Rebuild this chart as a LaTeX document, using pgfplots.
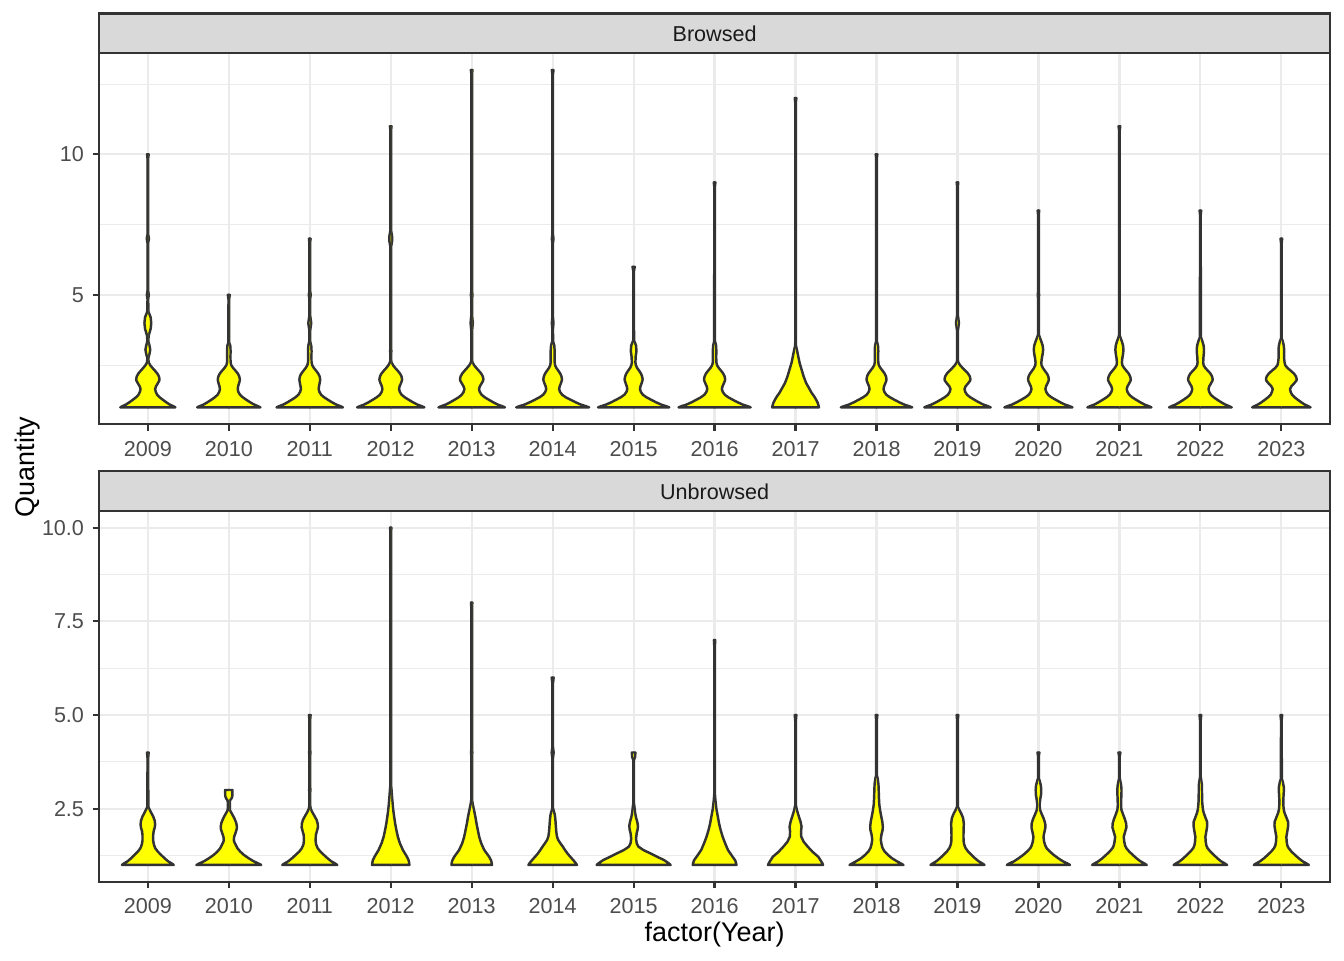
\documentclass[border=0pt]{standalone}
\usepackage{pgfplots}
\usepackage{pgfplotstable}
\pgfplotsset{compat=1.18}
\usepackage{fontspec}
\setmainfont{Liberation Sans}
\definecolor{gA}{HTML}{333333}
\definecolor{gB}{HTML}{4D4D4D}
\definecolor{gC}{HTML}{EBEBEB}
\definecolor{gD}{HTML}{D9D9D9}
\definecolor{gE}{HTML}{1A1A1A}
\definecolor{vy}{HTML}{FFFF00}

% ---------- Browsed ----------
\pgfplotstableread{
y w
1.00 -0.004
1.00 .340
1.04 .315
1.10 .270
1.18 .228
1.27 .185
1.36 .145
1.45 .115
1.55 .098
1.65 .090
1.75 .101
1.85 .122
1.95 .141
2.00 .144
2.10 .137
2.20 .118
2.30 .089
2.40 .058
2.50 .029
2.60 .010
2.75 .006
2.90 .020
3.05 .030
3.20 .020
3.35 .006
3.55 .010
3.80 .035
4.00 .042
4.20 .035
4.40 .008
4.85 .004
5.00 .012
5.15 .004
6.85 .004
7.00 .014
7.15 .004
9.85 .004
10.00 .010
10.00 -0.004
}\tTa
\pgfplotstableread{
y w
1.00 -0.004
1.00 .390
1.04 .362
1.10 .312
1.18 .264
1.27 .216
1.36 .172
1.45 .138
1.55 .118
1.65 .110
1.75 .115
1.85 .126
1.95 .135
2.00 .136
2.10 .129
2.20 .112
2.30 .084
2.40 .054
2.50 .030
2.60 .022
2.80 .020
3.00 .022
3.20 .018
3.30 .005
4.85 .004
5.00 .012
5.00 -0.004
}\tTb
\pgfplotstableread{
y w
1.00 -0.004
1.00 .410
1.04 .380
1.10 .326
1.18 .275
1.27 .224
1.36 .176
1.45 .140
1.55 .119
1.65 .110
1.75 .114
1.85 .121
1.95 .127
2.00 .128
2.10 .122
2.20 .105
2.30 .079
2.40 .051
2.50 .030
2.60 .022
2.80 .020
3.00 .022
3.20 .018
3.35 .005
3.75 .006
4.00 .018
4.25 .006
4.85 .004
5.00 .012
5.15 .004
6.85 .004
7.00 .010
7.00 -0.004
}\tTc
\pgfplotstableread{
y w
1.00 -0.004
1.00 .415
1.04 .384
1.10 .328
1.18 .275
1.27 .222
1.36 .172
1.45 .134
1.55 .112
1.65 .103
1.75 .110
1.85 .125
1.95 .138
2.00 .140
2.10 .133
2.20 .115
2.30 .087
2.40 .056
2.50 .028
2.60 .010
2.70 .004
2.90 .004
3.00 .008
3.10 .004
6.70 .004
6.90 .016
7.10 .016
7.30 .004
10.85 .004
11.00 .010
11.00 -0.004
}\tTd
\pgfplotstableread{
y w
1.00 -0.004
1.00 .410
1.04 .378
1.10 .320
1.18 .266
1.27 .212
1.36 .160
1.45 .122
1.55 .100
1.65 .090
1.75 .101
1.85 .122
1.95 .141
2.00 .144
2.10 .137
2.20 .118
2.30 .089
2.40 .058
2.50 .029
2.60 .010
2.70 .004
3.70 .004
4.00 .014
4.30 .004
4.85 .004
5.00 .010
5.15 .004
12.85 .004
13.00 .010
13.00 -0.004
}\tTe
\pgfplotstableread{
y w
1.00 -0.004
1.00 .450
1.04 .413
1.10 .346
1.18 .284
1.27 .221
1.36 .161
1.45 .117
1.55 .091
1.65 .080
1.75 .087
1.85 .101
1.95 .113
2.00 .115
2.10 .109
2.20 .094
2.30 .071
2.40 .046
2.50 .030
2.60 .025
2.80 .024
3.00 .025
3.20 .020
3.35 .005
3.80 .004
4.00 .010
4.20 .004
6.85 .004
7.00 .010
7.15 .004
12.85 .004
13.00 .010
13.00 -0.004
}\tTf
\pgfplotstableread{
y w
1.00 -0.004
1.00 .440
1.04 .404
1.10 .339
1.18 .277
1.27 .216
1.36 .158
1.45 .114
1.55 .089
1.65 .078
1.75 .085
1.85 .098
1.95 .109
2.00 .111
2.10 .105
2.20 .091
2.30 .069
2.40 .044
2.50 .028
2.60 .022
2.80 .025
3.00 .035
3.20 .030
3.38 .005
5.85 .004
6.00 .014
6.00 -0.004
}\tTg
\pgfplotstableread{
y w
1.00 -0.004
1.00 .445
1.04 .410
1.10 .346
1.18 .285
1.27 .225
1.36 .168
1.45 .126
1.55 .101
1.65 .090
1.75 .098
1.85 .114
1.95 .128
2.00 .130
2.10 .124
2.20 .107
2.30 .081
2.40 .052
2.50 .030
2.60 .022
2.80 .020
3.00 .022
3.20 .018
3.35 .005
8.85 .004
9.00 .010
9.00 -0.004
}\tTh
\pgfplotstableread{
y w
1.00 -0.004
1.00 .290
1.05 .285
1.15 .275
1.27 .255
1.39 .230
1.51 .200
1.69 .165
1.87 .130
2.10 .100
2.35 .074
2.58 .050
2.82 .033
3.06 .016
3.18 .006
3.30 .004
11.85 .004
12.00 .010
12.00 -0.004
}\tTi
\pgfplotstableread{
y w
1.00 -0.004
1.00 .440
1.04 .405
1.10 .341
1.18 .281
1.27 .221
1.36 .164
1.45 .121
1.55 .097
1.65 .086
1.75 .093
1.85 .108
1.95 .121
2.00 .123
2.10 .117
2.20 .101
2.30 .076
2.40 .049
2.50 .028
2.60 .022
2.80 .020
3.00 .022
3.20 .018
3.35 .005
9.85 .004
10.00 .010
10.00 -0.004
}\tTj
\pgfplotstableread{
y w
1.00 -0.004
1.00 .410
1.04 .378
1.10 .319
1.18 .264
1.27 .209
1.36 .157
1.45 .118
1.55 .096
1.65 .086
1.75 .101
1.85 .130
1.95 .156
2.00 .160
2.10 .152
2.20 .131
2.30 .099
2.40 .064
2.50 .032
2.60 .010
2.70 .004
3.70 .004
4.00 .018
4.30 .004
8.85 .004
9.00 .010
9.00 -0.004
}\tTk
\pgfplotstableread{
y w
1.00 -0.004
1.00 .420
1.04 .387
1.10 .326
1.18 .270
1.27 .213
1.36 .159
1.45 .119
1.55 .096
1.65 .086
1.75 .094
1.85 .111
1.95 .126
2.00 .128
2.10 .122
2.20 .105
2.30 .079
2.40 .055
2.50 .038
2.60 .036
2.75 .042
2.90 .052
3.05 .058
3.20 .052
3.35 .035
3.50 .015
3.60 .004
4.85 .004
5.00 .008
5.15 .004
7.85 .004
8.00 .010
8.00 -0.004
}\tTl
\pgfplotstableread{
y w
1.00 -0.004
1.00 .395
1.04 .365
1.10 .310
1.18 .258
1.27 .206
1.36 .157
1.45 .121
1.55 .099
1.65 .090
1.75 .100
1.85 .120
1.95 .138
2.00 .140
2.10 .133
2.20 .115
2.30 .087
2.40 .058
2.50 .036
2.60 .031
2.75 .036
2.90 .045
3.05 .050
3.20 .045
3.35 .030
3.50 .010
3.58 .004
10.85 .004
11.00 .010
11.00 -0.004
}\tTm
\pgfplotstableread{
y w
1.00 -0.004
1.00 .387
1.04 .358
1.10 .307
1.18 .258
1.27 .209
1.36 .163
1.45 .129
1.55 .109
1.65 .100
1.75 .110
1.85 .131
1.95 .149
2.00 .152
2.10 .144
2.20 .125
2.30 .094
2.40 .061
2.50 .040
2.60 .035
2.75 .037
2.90 .042
3.05 .045
3.20 .040
3.35 .025
3.50 .006
7.85 .004
8.00 .010
8.00 -0.004
}\tTn
\pgfplotstableread{
y w
1.00 -0.004
1.00 .360
1.04 .335
1.10 .289
1.18 .246
1.27 .203
1.36 .163
1.45 .132
1.55 .115
1.65 .107
1.75 .124
1.85 .157
1.95 .186
2.00 .190
2.10 .181
2.20 .156
2.30 .118
2.40 .076
2.50 .048
2.60 .040
2.75 .034
2.90 .033
3.05 .035
3.20 .030
3.35 .018
3.45 .004
6.85 .004
7.00 .010
7.00 -0.004
}\tTo

% ---------- Unbrowsed ----------
\pgfplotstableread{
y w
1.00 -0.004
1.00 .320
1.04 .295
1.10 .249
1.18 .206
1.27 .163
1.36 .122
1.45 .091
1.55 .074
1.65 .066
1.80 .066
1.90 .072
2.00 .085
2.08 .090
2.18 .085
2.30 .065
2.42 .035
2.55 .006
3.85 .004
4.00 .010
4.00 -0.004
}\tBa
\pgfplotstableread{
y w
1.00 -0.004
1.00 .400
1.04 .365
1.10 .305
1.18 .245
1.27 .185
1.36 .140
1.45 .105
1.52 .090
1.60 .070
1.66 .062
1.75 .066
1.85 .082
1.95 .097
2.02 .100
2.12 .092
2.24 .070
2.36 .040
2.46 .014
2.60 .012
2.72 .014
2.78 .035
2.84 .044
3.00 .045
3.00 -0.004
}\tBb
\pgfplotstableread{
y w
1.00 -0.004
1.00 .340
1.04 .313
1.10 .264
1.18 .219
1.27 .173
1.36 .129
1.45 .097
1.55 .078
1.65 .072
1.80 .075
1.90 .088
2.00 .100
2.10 .098
2.20 .085
2.32 .055
2.42 .028
2.50 .012
2.60 .004
2.90 .004
3.00 .008
3.10 .004
3.90 .004
4.00 .008
4.10 .004
4.85 .004
5.00 .010
5.00 -0.004
}\tBc
\pgfplotstableread{
y w
1.00 -0.004
1.00 .230
1.05 .228
1.12 .222
1.22 .200
1.40 .150
1.58 .113
1.75 .088
1.93 .070
2.10 .055
2.29 .042
2.45 .032
2.60 .025
2.80 .017
3.00 .010
3.15 .004
9.85 .004
10.00 .008
10.00 -0.004
}\tBd
\pgfplotstableread{
y w
1.00 -0.004
1.00 .250
1.05 .247
1.12 .240
1.22 .215
1.40 .155
1.58 .117
1.75 .093
1.93 .076
2.10 .060
2.29 .045
2.45 .030
2.55 .020
2.70 .007
2.80 .004
3.90 .004
4.00 .008
4.10 .004
7.85 .004
8.00 .008
8.00 -0.004
}\tBe
\pgfplotstableread{
y w
1.00 -0.004
1.00 .300
1.05 .285
1.12 .258
1.20 .225
1.30 .185
1.40 .152
1.49 .125
1.58 .095
1.67 .068
1.76 .053
1.90 .044
2.05 .039
2.20 .034
2.35 .026
2.45 .012
2.52 .004
3.85 .004
4.00 .012
4.15 .004
5.85 .004
6.00 .012
6.00 -0.004
}\tBf
\pgfplotstableread{
y w
1.00 -0.004
1.00 .457
1.05 .430
1.13 .375
1.22 .290
1.31 .205
1.40 .120
1.49 .058
1.58 .038
1.70 .030
1.85 .038
1.95 .050
2.05 .053
2.15 .045
2.28 .028
2.40 .018
2.55 .010
2.65 .004
3.80 .004
3.88 .018
4.00 .022
4.00 -0.004
}\tBg
\pgfplotstableread{
y w
1.00 -0.004
1.00 .270
1.05 .265
1.12 .255
1.22 .222
1.40 .165
1.58 .130
1.75 .100
1.93 .075
2.10 .056
2.29 .040
2.50 .022
2.73 .010
2.90 .004
6.85 .004
7.00 .008
7.00 -0.004
}\tBh
\pgfplotstableread{
y w
1.00 -0.004
1.00 .340
1.05 .330
1.12 .310
1.22 .280
1.35 .210
1.49 .150
1.62 .100
1.76 .070
1.90 .068
2.02 .074
2.15 .062
2.30 .040
2.47 .016
2.60 .004
4.85 .004
5.00 .010
5.00 -0.004
}\tBi
\pgfplotstableread{
y w
1.00 -0.004
1.00 .333
1.04 .300
1.10 .250
1.18 .190
1.27 .140
1.36 .100
1.45 .075
1.55 .062
1.67 .053
1.80 .060
1.93 .075
2.02 .078
2.15 .072
2.30 .058
2.45 .045
2.60 .035
2.82 .029
3.00 .027
3.15 .024
3.30 .015
3.40 .004
4.85 .004
5.00 .010
5.00 -0.004
}\tBj
\pgfplotstableread{
y w
1.00 -0.004
1.00 .333
1.04 .307
1.10 .260
1.18 .216
1.27 .172
1.36 .131
1.45 .100
1.55 .082
1.65 .075
1.80 .074
1.95 .076
2.10 .078
2.25 .070
2.38 .045
2.48 .020
2.56 .004
4.85 .004
5.00 .010
5.00 -0.004
}\tBk
\pgfplotstableread{
y w
1.00 -0.004
1.00 .390
1.04 .358
1.10 .300
1.18 .244
1.27 .187
1.36 .140
1.45 .100
1.52 .084
1.62 .070
1.75 .062
1.88 .074
2.00 .086
2.10 .084
2.22 .068
2.35 .042
2.47 .020
2.60 .014
2.75 .022
2.88 .032
3.00 .034
3.12 .030
3.25 .014
3.32 .004
3.90 .004
4.00 .012
4.00 -0.004
}\tBl
\pgfplotstableread{
y w
1.00 -0.004
1.00 .337
1.04 .308
1.10 .258
1.18 .210
1.27 .164
1.36 .120
1.45 .085
1.52 .070
1.62 .060
1.75 .053
1.88 .070
2.00 .086
2.10 .084
2.22 .068
2.35 .045
2.47 .025
2.60 .020
2.75 .022
2.90 .025
3.00 .026
3.12 .022
3.25 .010
3.32 .004
3.90 .004
4.00 .012
4.00 -0.004
}\tBm
\pgfplotstableread{
y w
1.00 -0.004
1.00 .330
1.04 .302
1.10 .254
1.18 .209
1.27 .165
1.36 .122
1.45 .088
1.52 .074
1.62 .066
1.75 .062
1.90 .074
2.05 .085
2.15 .083
2.28 .060
2.40 .040
2.50 .030
2.70 .022
2.95 .020
3.15 .018
3.27 .010
3.35 .004
4.85 .004
5.00 .010
5.00 -0.004
}\tBn
\pgfplotstableread{
y w
1.00 -0.004
1.00 .340
1.04 .311
1.10 .261
1.18 .214
1.27 .167
1.36 .124
1.45 .090
1.52 .074
1.62 .066
1.75 .062
1.90 .074
2.05 .085
2.15 .083
2.28 .060
2.40 .038
2.50 .028
2.65 .024
2.80 .026
2.95 .030
3.08 .030
3.20 .020
3.30 .006
4.85 .004
5.00 .010
5.00 -0.004
}\tBo

\pgfplotsset{
  vfill/.style={fill=vy, draw=gA, line width=1.0pt, line join=round, mark=none, forget plot},
  panel/.style={
    scale only axis, width=502.1pt, height=151.4pt,
    xmin=0.4, xmax=15.6,
    xtick={1,2,3,4,5,6,7,8,9,10,11,12,13,14,15},
    xticklabels={2009,2010,2011,2012,2013,2014,2015,2016,2017,2018,2019,2020,2021,2022,2023},
    tick pos=left, tick align=outside,
    major tick length=2.7pt, minor tick length=0pt,
    tick style={draw=gA, line width=0.9pt},
    axis line style={draw=gA, line width=0.9pt},
    grid=both,
    major grid style={draw=gC, line width=0.9pt},
    minor grid style={draw=gC, line width=0.45pt},
    /pgf/number format/assume math mode=true,
    ticklabel style={font=\fontsize{8.8}{10}\selectfont, text=gB},
    xticklabel style={yshift=-0.6pt},
  },
}
\newcommand{\vio}[2]{%
  \addplot[vfill] table[x expr={#1+\thisrow{w}}, y=y] {#2};
  \addplot[vfill] table[x expr={#1-\thisrow{w}}, y=y] {#2};
}

\begin{document}
\begin{tikzpicture}
\path[use as bounding box] (0,0) rectangle (548.35pt,391.68pt);

\begin{axis}[panel, at={(40.5pt,218.6pt)}, anchor=south west,
  ymin=0.4, ymax=13.6, ytick={5,10}, yticklabels={5,10},
  minor ytick={2.5,7.5,12.5}]
\vio{1}{\tTa}\vio{2}{\tTb}\vio{3}{\tTc}\vio{4}{\tTd}\vio{5}{\tTe}
\vio{6}{\tTf}\vio{7}{\tTg}\vio{8}{\tTh}\vio{9}{\tTi}\vio{10}{\tTj}
\vio{11}{\tTk}\vio{12}{\tTl}\vio{13}{\tTm}\vio{14}{\tTn}\vio{15}{\tTo}
\end{axis}

\begin{axis}[panel, at={(40.5pt,31.9pt)}, anchor=south west,
  ymin=0.55, ymax=10.45, ytick={2.5,5,7.5,10}, yticklabels={2.5,5.0,7.5,10.0},
  minor ytick={1.25,3.75,6.25,8.75}]
\vio{1}{\tBa}\vio{2}{\tBb}\vio{3}{\tBc}\vio{4}{\tBd}\vio{5}{\tBe}
\vio{6}{\tBf}\vio{7}{\tBg}\vio{8}{\tBh}\vio{9}{\tBi}\vio{10}{\tBj}
\vio{11}{\tBk}\vio{12}{\tBl}\vio{13}{\tBm}\vio{14}{\tBn}\vio{15}{\tBo}
\end{axis}

% facet strips
\draw[fill=gD, draw=gA, line width=0.9pt] (40.5pt,370.0pt) rectangle (542.6pt,386.2pt);
\node[text=gE, font=\fontsize{8.8}{10}\selectfont] at (291.55pt,377.7pt) {Browsed};
\draw[fill=gD, draw=gA, line width=0.9pt] (40.5pt,183.3pt) rectangle (542.6pt,199.6pt);
\node[text=gE, font=\fontsize{8.8}{10}\selectfont] at (291.55pt,191.05pt) {Unbrowsed};

% axis titles
\node[rotate=90, font=\fontsize{11}{13}\selectfont] at (11.4pt,201.1pt) {Quantity};
\node[font=\fontsize{11}{13}\selectfont] at (291.55pt,10.3pt) {factor(Year)};
\end{tikzpicture}
\end{document}
